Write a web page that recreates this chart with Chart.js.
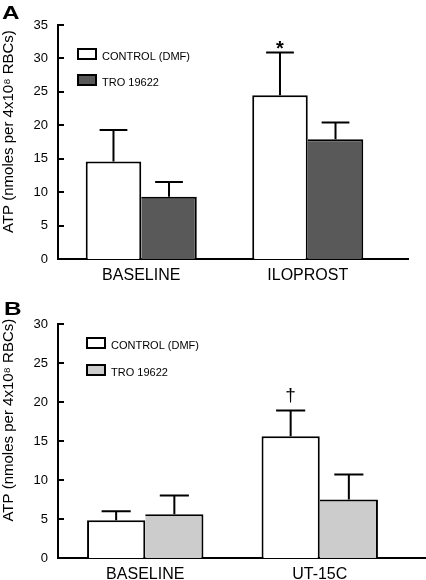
<!DOCTYPE html>
<html><head><meta charset="utf-8">
<script src="https://cdn.jsdelivr.net/npm/chart.js@4.4.1/dist/chart.umd.min.js"></script>
<style>
html,body{margin:0;padding:0;background:#fff;}
#wrap{position:relative;width:426px;height:580px;overflow:hidden;font-family:'Liberation Sans',Arial,sans-serif;}
canvas{position:absolute;left:0;}
.panel{position:absolute;font-weight:bold;font-size:18px;transform-origin:left top;transform:scaleX(1.35);line-height:1;color:#000;}
</style></head><body>
<div id="wrap">
<canvas id="cA" width="426" height="290" style="top:0"></canvas>
<canvas id="cB" width="426" height="290" style="top:290px"></canvas>
<div class="panel" style="left:2px;top:4px">A</div>
<div class="panel" style="left:4px;top:300px">B</div>
</div>
<script>
// ---- data ----
const seriesNames = ['CONTROL (DMF)', 'TRO 19622'];
const yTitle = 'ATP (nmoles per 4x10⁸ RBCs)';

const categoriesA = ['BASELINE', 'ILOPROST'];
const controlA = [14.6, 24.5];
const controlErrA = [4.7, 6.4];
const troA = [9.3, 17.9];
const troErrA = [2.2, 2.5];
const sigA = ['', '*'];
const yMaxA = 35;

const categoriesB = ['BASELINE', 'UT-15C'];
const controlB = [4.85, 15.6];
const controlErrB = [1.15, 3.3];
const troB = [5.6, 7.5];
const troErrB = [2.4, 3.2];
const sigB = ['', '†'];
const yMaxB = 30;

const FONT = "'Liberation Sans', Arial, sans-serif";

const extras = {
  id: 'extras',
  afterDatasetsDraw(chart, args, o) {
    const ctx = chart.ctx, y = chart.scales.y;
    ctx.save();
    ctx.strokeStyle = '#000';
    ctx.lineWidth = 2;
    chart.data.datasets.forEach((ds, d) => {
      const meta = chart.getDatasetMeta(d);
      meta.data.forEach((el, i) => {
        const v = ds.data[i];
        const top = y.getPixelForValue(v);
        const ey = y.getPixelForValue(v + o.errors[d][i]);
        const half = el.width * 0.25;
        ctx.beginPath();
        ctx.moveTo(el.x, top);
        ctx.lineTo(el.x, ey);
        ctx.moveTo(el.x - half, ey);
        ctx.lineTo(el.x + half, ey);
        ctx.stroke();
        if (d === 0 && o.sig[i]) {
          ctx.fillStyle = '#000';
          ctx.font = o.sigFont;
          ctx.textAlign = 'center';
          ctx.textBaseline = 'alphabetic';
          ctx.fillText(o.sig[i], el.x, ey - o.sigOffset);
        }
      });
    });
    ctx.restore();
  },
  afterDraw(chart, args, o) {
    const ctx = chart.ctx, ys = chart.scales.y, a = chart.chartArea;
    ctx.save();
    ctx.strokeStyle = '#000';
    ctx.lineWidth = 2;
    // inward tick marks
    ys.ticks.forEach(t => {
      const py = Math.round(ys.getPixelForValue(t.value));
      ctx.beginPath();
      ctx.moveTo(a.left, py);
      ctx.lineTo(a.left + 6, py);
      ctx.stroke();
    });
    // x axis extension
    const by = Math.round(a.bottom);
    ctx.beginPath();
    ctx.moveTo(a.right - 1, by);
    ctx.lineTo(o.axisEnd, by);
    ctx.stroke();
    // legend
    ctx.font = '11px ' + FONT;
    ctx.textAlign = 'left';
    ctx.textBaseline = 'alphabetic';
    chart.data.datasets.forEach((ds, d) => {
      const bx = a.left + o.legX, byy = a.top + o.legY + d * o.legGap;
      ctx.fillStyle = ds.backgroundColor;
      ctx.fillRect(bx, byy, 20, 12);
      ctx.strokeRect(bx + 1, byy + 1, 18, 10);
      ctx.fillStyle = '#000';
      ctx.fillText(ds.label, bx + 25, byy + 12);
    });
    ctx.restore();
  }
};

function makeChart(id, cats, ctrl, tro, errs, sig, yMax, fill2, pad, xh, titleShift, ext) {
  return new Chart(document.getElementById(id), {
    type: 'bar',
    data: {
      labels: cats,
      datasets: [
        { label: seriesNames[0], data: ctrl, backgroundColor: '#ffffff', borderColor: '#000',
          borderWidth: {top: 2, left: 2, right: 2, bottom: 0}, borderSkipped: false,
          categoryPercentage: 0.667, barPercentage: 1 },
        { label: seriesNames[1], data: tro, backgroundColor: fill2, borderColor: '#000',
          borderWidth: {top: 2, left: 0, right: 2, bottom: 0}, borderSkipped: false,
          categoryPercentage: 0.667, barPercentage: 1 }
      ]
    },
    options: {
      responsive: false,
      animation: false,
      layout: { padding: pad },
      plugins: {
        legend: { display: false },
        tooltip: { enabled: false },
        extras: Object.assign({ errors: errs, sig: sig }, ext)
      },
      scales: {
        x: {
          grid: { display: false, drawTicks: false },
          border: { display: true, color: '#000', width: 2 },
          ticks: { color: '#000', font: { family: FONT, size: 16 }, padding: 7 },
          afterFit: s => { s.height = xh; }
        },
        y: {
          min: 0, max: yMax,
          grid: { display: false, drawTicks: false },
          border: { display: true, color: '#000', width: 2 },
          ticks: { stepSize: 5, color: '#000', font: { family: FONT, size: 13 }, padding: 10 },
          title: { display: true, text: ' '.repeat(titleShift) + yTitle, color: '#000', font: { family: FONT, size: 15 }, padding: 0 },
          afterFit: s => { s.width = 58; }
        }
      }
    },
    plugins: [extras]
  });
}

makeChart('cA', categoriesA, controlA, troA, [controlErrA, troErrA], sigA, yMaxA, '#595959',
  { left: 0, top: 25, right: 35, bottom: 0 }, 31, 5,
  { axisEnd: 409, legX: 19, legY: 23, legGap: 26, sigFont: 'bold 20px ' + FONT, sigOffset: -3 });
makeChart('cB', categoriesB, controlB, troB, [controlErrB, troErrB], sigB, yMaxB, '#cccccc',
  { left: 0, top: 34, right: 19, bottom: 0 }, 22, 10,
  { axisEnd: 426, legX: 28, legY: 13, legGap: 27, sigFont: '19px ' + FONT, sigOffset: 10 });
</script>
</body></html>
